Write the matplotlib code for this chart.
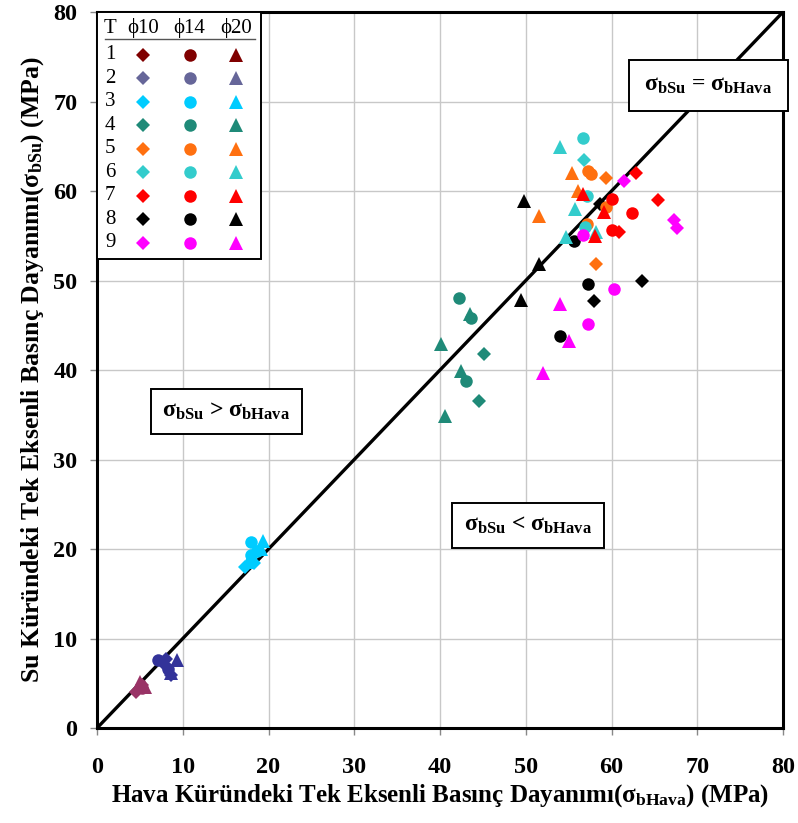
import matplotlib.pyplot as plt
import matplotlib.patches as mpatches

plt.rcParams['font.family'] = ['Liberation Serif', 'DejaVu Serif']
plt.rcParams['mathtext.fontset'] = 'custom'
plt.rcParams['mathtext.rm'] = 'Liberation Serif:bold'
plt.rcParams['mathtext.bf'] = 'Liberation Serif:bold'
plt.rcParams['mathtext.it'] = 'Liberation Serif:bold'

# -------- data: (T group, air-cured, water-cured) per specimen diameter --------
d10_t = [1, 1, 2, 2, 2, 3, 3, 4, 4, 5, 5, 6, 7, 7, 7, 8, 8, 8, 9, 9, 9]
d10_x = [4.6, 5.2, 8.0, 7.8, 8.6, 17.3, 18.3, 45.1, 44.5, 59.3, 58.2, 56.8,
         62.8, 65.4, 60.9, 58.6, 63.6, 58.0, 61.5, 67.3, 67.6]
d10_y = [4.0, 4.8, 7.7, 7.1, 5.9, 18.0, 18.4, 41.8, 36.5, 61.4, 51.9, 63.5,
         62.0, 59.0, 55.4, 58.5, 50.0, 47.7, 61.1, 56.8, 55.9]

d14_t = [1, 2, 2, 3, 3, 3, 4, 4, 4, 5, 5, 5, 5, 6, 6, 6, 7, 7, 7, 8, 8, 8, 9, 9, 9]
d14_x = [5.3, 7.1, 8.3, 17.9, 17.9, 18.6, 42.2, 43.6, 43.0, 57.3, 57.6, 59.3, 57.1,
         56.7, 57.2, 56.9, 60.0, 62.4, 60.1, 55.6, 57.3, 54.0, 56.7, 60.3, 57.3]
d14_y = [4.5, 7.6, 6.6, 20.8, 19.3, 19.8, 48.0, 45.8, 38.8, 62.2, 61.9, 58.2, 56.3,
         65.9, 59.4, 56.0, 59.1, 57.5, 55.6, 54.4, 49.6, 43.8, 55.1, 49.1, 45.1]

d20_t = [1, 1, 2, 2, 3, 3, 3, 4, 4, 4, 4, 5, 5, 5, 6, 6, 6, 6, 7, 7, 7, 8, 8, 8, 9, 9, 9]
d20_x = [5.0, 5.6, 9.3, 8.6, 19.4, 19.1, 17.6, 40.1, 42.5, 40.6, 43.5, 55.4, 56.1, 51.6,
         54.0, 55.7, 58.2, 54.7, 56.7, 59.1, 58.1, 49.8, 51.5, 49.4, 54.0, 55.0, 52.0]
d20_y = [5.1, 4.6, 7.6, 6.2, 20.9, 20.0, 18.5, 42.9, 39.9, 34.9, 46.3, 62.0, 60.0, 57.2,
         64.9, 58.0, 55.4, 54.9, 59.7, 57.7, 55.0, 58.9, 51.8, 47.8, 47.4, 43.2, 39.7]

groups = [1, 2, 3, 4, 5, 6, 7, 8, 9]
point_colors = ['#993366', '#333399', '#00CCFF', '#1F8A78', '#FF7010',
                '#33CCCC', '#FF0000', '#000000', '#FF00FF']
key_colors = ['#800000', '#666699', '#00CCFF', '#1F8A78', '#FF7010',
              '#33CCCC', '#FF0000', '#000000', '#FF00FF']
diameters = ['ϕ10', 'ϕ14', 'ϕ20']
ticks = [0, 10, 20, 30, 40, 50, 60, 70, 80]
tick_labels = ['0', '10', '20', '30', '40', '50', '60', '70', '80']

series = [(d10_t, d10_x, d10_y, 'D', 7.6),
          (d14_t, d14_x, d14_y, 'o', 9.0),
          (d20_t, d20_x, d20_y, '^', 9.6)]

fig = plt.figure(figsize=(7.98, 8.23), dpi=100)
ax = fig.add_axes([0.1216, 0.1154, 0.8596, 0.870])

ax.set_xlim(0, 80)
ax.set_ylim(0, 80)
ax.set_xticks(ticks, labels=tick_labels, fontsize=17.5, fontweight='bold')
ax.set_yticks(ticks, labels=tick_labels, fontsize=17.5, fontweight='bold')
ax.grid(True, color='#c8c8c8', linewidth=1.0)
ax.set_axisbelow(True)
for s in ax.spines.values():
    s.set_linewidth(2.2)
ax.tick_params(axis='x', length=5, width=1, color='#888888', pad=16)
ax.tick_params(axis='y', length=5, width=1, color='#888888', pad=9)

# equality line
ax.plot([0, 80], [0, 80], color='black', linewidth=2.4, zorder=2)

for t_list, xs, ys, mk, ms in series:
    for g, col in zip(groups, point_colors):
        gx = [x for t, x in zip(t_list, xs) if t == g]
        gy = [y for t, y in zip(t_list, ys) if t == g]
        ax.plot(gx, gy, linestyle='none', marker=mk, markersize=ms,
                color=col, markeredgewidth=0, zorder=3)

ax.set_xlabel('Hava Küründeki Tek Eksenli Basınç Dayanımı(σ$_{bHava}$) (MPa)',
              fontsize=18, fontweight='bold', labelpad=3)
ax.set_ylabel('Su Küründeki Tek Eksenli Basınç Dayanımı(σ$_{bSu}$) (MPa)',
              fontsize=18.5, fontweight='bold', labelpad=5)

box = dict(boxstyle='square,pad=0.5', facecolor='white', edgecolor='black', linewidth=1.4)
ax.text(71.3, 71.8, 'σ$_{bSu}$ = σ$_{bHava}$', fontsize=17, fontweight='bold',
        ha='center', va='center',
        bbox=dict(boxstyle='square,pad=0.65', facecolor='white', edgecolor='black',
                  linewidth=1.4), zorder=5)
ax.text(15.1, 35.4, 'σ$_{bSu}$ > σ$_{bHava}$', fontsize=17, fontweight='bold',
        ha='center', va='center', bbox=box, zorder=5)
ax.text(50.3, 22.6, 'σ$_{bSu}$ < σ$_{bHava}$', fontsize=17, fontweight='bold',
        ha='center', va='center', bbox=box, zorder=5)

# key table in the upper-left corner
ax.add_patch(mpatches.Rectangle((0, 0.655), 0.239, 0.345, transform=ax.transAxes,
                                facecolor='white', edgecolor='black', linewidth=1.4,
                                zorder=6))
ax.plot([0.012, 0.23], [0.963, 0.963], transform=ax.transAxes, color='#555555',
        linewidth=1.0, zorder=7)
ax.text(0.019, 0.977, 'T', transform=ax.transAxes, fontsize=15, ha='center',
        va='center', zorder=7)
col_x = [0.067, 0.135, 0.203]
for cx, d in zip(col_x, diameters):
    ax.text(cx, 0.977, d, transform=ax.transAxes, fontsize=15, ha='center',
            va='center', zorder=7)
for i, (g, col) in enumerate(zip(groups, key_colors)):
    ry = 0.940 - i * 0.0328
    ax.text(0.019, ry, str(g), transform=ax.transAxes, fontsize=15, ha='center',
            va='center', zorder=7)
    for cx, (_, _, _, mk, ms) in zip(col_x, series):
        ax.plot(cx, ry, transform=ax.transAxes, marker=mk, markersize=ms,
                color=col, markeredgewidth=0, zorder=7, clip_on=False)

fig.savefig('out.png', dpi=100)
